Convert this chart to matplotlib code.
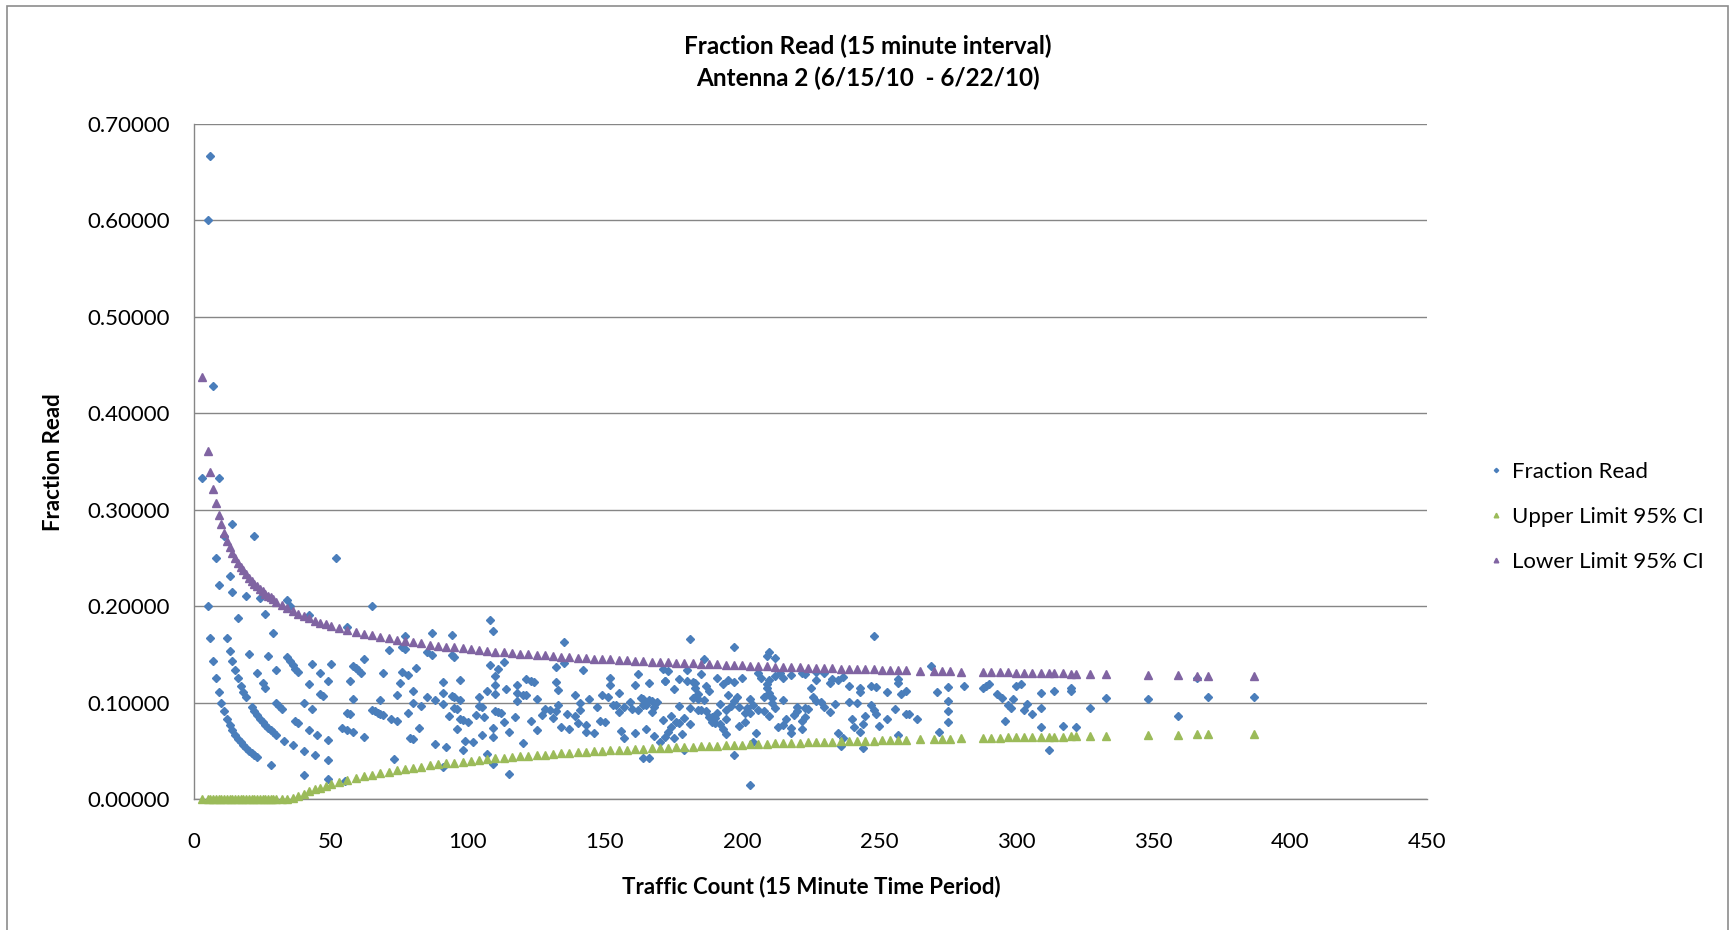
import matplotlib.pyplot as plt
from matplotlib.patches import Rectangle
from matplotlib.ticker import FormatStrFormatter, MultipleLocator

plt.rcParams['font.family'] = ['Lato', 'DejaVu Sans']

# ── Data ───────────────────────────────────────────────────────────────────────

# one point per 15 minute interval: traffic count and fraction of tags read
traffic_count = [
    3, 5, 6, 7, 9, 14, 22, 8, 52, 11,
    13, 9, 14, 19, 24, 34, 5, 65, 26, 35,
    16, 42, 56, 29, 6, 12, 77, 87, 94, 13,
    20, 27, 34, 35, 36, 37, 7, 14, 15, 16,
    8, 17, 18, 19, 9, 10, 11, 12, 13, 14,
    15, 16, 17, 18, 19, 20, 21, 22, 23, 23,
    25, 26, 21, 22, 23, 24, 25, 26, 27, 28,
    29, 30, 28, 30, 30, 31, 32, 33, 36, 40,
    44, 49, 40, 49, 38, 43, 46, 50, 49, 42,
    46, 47, 40, 43, 37, 38, 42, 45, 49, 58,
    59, 60, 61, 62, 57, 58, 56, 57, 54, 56,
    58, 62, 55, 65, 66, 67, 68, 69, 68, 69,
    71, 76, 77, 72, 74, 73, 75, 74, 76, 78,
    81, 80, 80, 78, 82, 79, 80, 83, 85, 85,
    87, 88, 88, 91, 91, 91, 92, 91, 94, 95,
    94, 95, 97, 95, 96, 97, 98, 96, 97, 100,
    93, 99, 98, 102, 103, 104, 104, 105, 108, 109,
    135, 181, 197, 248, 210, 209, 212, 186, 113, 108,
    111, 110, 135, 132, 142, 171, 173, 180, 185, 162,
    152, 121, 123, 124, 132, 110, 118, 152, 161, 166,
    172, 177, 180, 183, 187, 191, 193, 195, 197, 200,
    206, 207, 209, 210, 212, 214, 215, 218, 222, 223,
    227, 230, 232, 233, 235, 237, 239, 243, 247, 249,
    253, 257, 257, 258, 260, 264, 269, 271, 275, 275,
    275, 275, 272, 257, 260, 261, 256, 253, 250, 249,
    248, 247, 245, 244, 244, 242, 243, 239, 240, 241,
    243, 237, 236, 235, 234, 232, 230, 229, 227, 227,
    225, 226, 224, 223, 223, 222, 222, 220, 220, 219,
    218, 218, 216, 215, 215, 213, 212, 211, 210, 211,
    210, 209, 208, 208, 206, 205, 204, 204, 203, 203,
    202, 201, 201, 199, 199, 198, 197, 196, 195, 194,
    194, 194, 193, 192, 192, 191, 190, 190, 189, 189,
    188, 188, 187, 186, 185, 184, 184, 184, 183, 182,
    182, 181, 181, 179, 178, 177, 177, 176, 175, 174,
    174, 173, 172, 172, 171, 170, 169, 168, 168, 167,
    167, 166, 165, 165, 164, 164, 163, 162, 161, 160,
    159, 157, 156, 155, 157, 155, 154, 153, 151, 150,
    149, 148, 147, 146, 144, 143, 143, 141, 141, 140,
    139, 139, 136, 137, 134, 133, 133, 132, 131, 130,
    128, 127, 125, 125, 123, 121, 120, 120, 118, 118,
    117, 115, 114, 113, 112, 110, 110, 111, 109, 109,
    107, 107, 106, 105, 109, 115, 164, 166, 179, 197,
    203, 175,
    281, 288, 289, 290, 293, 295, 296, 297, 298, 299,
    300, 302, 303, 304, 306, 309, 309, 309, 312, 314,
    317, 320, 320, 322, 327, 333, 348, 359, 366, 370,
    387,
]

fraction_read = [
    0.3333, 0.6000, 0.6667, 0.4286, 0.3333, 0.2857, 0.2727, 0.2500, 0.2500, 0.2727,
    0.2308, 0.2222, 0.2143, 0.2105, 0.2083, 0.2059, 0.2000, 0.2000, 0.1923, 0.2000,
    0.1875, 0.1905, 0.1786, 0.1724, 0.1667, 0.1667, 0.1688, 0.1724, 0.1702, 0.1538,
    0.1500, 0.1481, 0.1471, 0.1429, 0.1389, 0.1351, 0.1429, 0.1429, 0.1333, 0.1250,
    0.1250, 0.1176, 0.1111, 0.1053, 0.1111, 0.1000, 0.0909, 0.0833, 0.0769, 0.0714,
    0.0667, 0.0625, 0.0588, 0.0556, 0.0526, 0.0500, 0.0476, 0.0455, 0.0435, 0.1304,
    0.1200, 0.1154, 0.0952, 0.0909, 0.0870, 0.0833, 0.0800, 0.0769, 0.0741, 0.0714,
    0.0690, 0.0667, 0.0357, 0.1333, 0.1000, 0.0968, 0.0938, 0.0606, 0.0556, 0.0500,
    0.0455, 0.0408, 0.0250, 0.0204, 0.1316, 0.1395, 0.1304, 0.1400, 0.1224, 0.1190,
    0.1087, 0.1064, 0.1000, 0.0930, 0.0811, 0.0789, 0.0714, 0.0667, 0.0612, 0.1379,
    0.1356, 0.1333, 0.1311, 0.1452, 0.1228, 0.1034, 0.0893, 0.0877, 0.0741, 0.0714,
    0.0690, 0.0645, 0.0182, 0.0923, 0.0909, 0.0896, 0.0882, 0.0870, 0.1029, 0.1304,
    0.1549, 0.1579, 0.1558, 0.0833, 0.0811, 0.0411, 0.1200, 0.1081, 0.1316, 0.1282,
    0.1358, 0.1125, 0.1000, 0.0897, 0.0732, 0.0633, 0.0625, 0.0964, 0.1059, 0.1529,
    0.1494, 0.1023, 0.0568, 0.1209, 0.1099, 0.0989, 0.0543, 0.0330, 0.1064, 0.1053,
    0.1489, 0.1474, 0.1237, 0.0947, 0.0938, 0.0825, 0.0816, 0.0729, 0.1031, 0.0800,
    0.0860, 0.0606, 0.0510, 0.0588, 0.0874, 0.1058, 0.0962, 0.0667, 0.1852, 0.1743,
    0.1630, 0.1657, 0.1574, 0.1694, 0.1524, 0.1483, 0.1462, 0.1452, 0.1416, 0.1389,
    0.1351, 0.1273, 0.1407, 0.1364, 0.1338, 0.1345, 0.1329, 0.1333, 0.1297, 0.1296,
    0.1250, 0.1240, 0.1220, 0.1210, 0.1212, 0.1182, 0.1186, 0.1184, 0.1180, 0.1205,
    0.1221, 0.1243, 0.1222, 0.1202, 0.1176, 0.1257, 0.1192, 0.1231, 0.1218, 0.1250,
    0.1311, 0.1256, 0.1196, 0.1238, 0.1274, 0.1308, 0.1256, 0.1284, 0.1306, 0.1300,
    0.1322, 0.1304, 0.1207, 0.1245, 0.1234, 0.1266, 0.1172, 0.1152, 0.1174, 0.1165,
    0.1107, 0.1245, 0.1206, 0.1085, 0.1115, 0.0833, 0.1375, 0.1107, 0.1164, 0.1018,
    0.0909, 0.0800, 0.0699, 0.0661, 0.0885, 0.0881, 0.0938, 0.0830, 0.0760, 0.0884,
    0.0927, 0.0972, 0.0857, 0.0779, 0.0533, 0.0992, 0.1111, 0.1004, 0.0833, 0.0747,
    0.0700, 0.0633, 0.0551, 0.0681, 0.0983, 0.0905, 0.0957, 0.1004, 0.1013, 0.1233,
    0.1156, 0.1062, 0.0938, 0.0942, 0.0852, 0.0811, 0.0721, 0.0955, 0.0909, 0.0868,
    0.0734, 0.0688, 0.0833, 0.0767, 0.1023, 0.0751, 0.0943, 0.1043, 0.1095, 0.0995,
    0.0857, 0.1148, 0.1058, 0.0913, 0.0922, 0.0683, 0.0588, 0.0980, 0.1034, 0.0887,
    0.0941, 0.0896, 0.0796, 0.0754, 0.0955, 0.1061, 0.1015, 0.0969, 0.1077, 0.0928,
    0.0670, 0.0825, 0.0725, 0.0990, 0.0781, 0.0890, 0.0789, 0.0842, 0.0794, 0.0847,
    0.0851, 0.1117, 0.0909, 0.1022, 0.0919, 0.0924, 0.1033, 0.1087, 0.1148, 0.1044,
    0.1209, 0.0939, 0.0773, 0.0838, 0.0674, 0.0791, 0.0960, 0.0795, 0.0629, 0.0862,
    0.0747, 0.0694, 0.0640, 0.1221, 0.0819, 0.0588, 0.1006, 0.0655, 0.0952, 0.0898,
    0.1018, 0.1024, 0.0727, 0.0970, 0.1037, 0.0976, 0.1043, 0.0926, 0.0683, 0.0938,
    0.1006, 0.0955, 0.0705, 0.0903, 0.0637, 0.1097, 0.0974, 0.0980, 0.1060, 0.0800,
    0.1074, 0.0811, 0.0952, 0.0685, 0.1042, 0.0699, 0.0769, 0.0922, 0.0993, 0.0786,
    0.0863, 0.1079, 0.0882, 0.0730, 0.0746, 0.1128, 0.0977, 0.0909, 0.0840, 0.0923,
    0.0938, 0.0866, 0.0720, 0.1040, 0.0813, 0.1074, 0.1083, 0.0583, 0.1017, 0.1102,
    0.0855, 0.0696, 0.1140, 0.0796, 0.0893, 0.1091, 0.0909, 0.0901, 0.0642, 0.0734,
    0.1121, 0.0467, 0.0849, 0.0952, 0.0367, 0.0261, 0.0427, 0.0422, 0.0503, 0.0457,
    0.0148, 0.1143,
    0.1174, 0.1146, 0.1176, 0.1190, 0.1092, 0.1051, 0.0811, 0.0976, 0.0940, 0.1037,
    0.1167, 0.1192, 0.0924, 0.0987, 0.0882, 0.1100, 0.0939, 0.0744, 0.0513, 0.1115,
    0.0757, 0.1156, 0.1125, 0.0745, 0.0948, 0.1051, 0.1034, 0.0864, 0.1257, 0.1054,
    0.1059,
]

# confidence interval markers (legend names kept as in the original chart)
ci_count = [
    3, 5, 6, 7, 8, 9, 10, 11, 12, 13, 14, 15, 16, 17, 18, 19, 20, 21, 22, 23, 24, 25, 26, 27, 28, 29,
    30, 32, 34, 36, 38, 40, 42, 44, 46, 48,
    50, 53, 56, 59, 62, 65, 68, 71, 74, 77, 80, 83, 86, 89, 92, 95, 98, 101, 104, 107,
    110, 113, 116, 119, 122, 125, 128, 131, 134, 137, 140, 143, 146, 149, 152, 155, 158, 161, 164, 167,
    170, 173, 176, 179, 182, 185, 188, 191, 194, 197, 200, 203, 206, 209, 212, 215, 218, 221, 224, 227,
    230, 233, 236, 239, 242, 245, 248, 251, 254, 257, 260,
    265, 270, 273, 276, 280, 288, 291, 294, 297, 300, 303, 306, 309, 312, 314, 317, 320, 322, 327, 333,
    348, 359, 366, 370, 387,
]

ci_upper = [  # green markers
    0, 0, 0, 0, 0, 0, 0, 0, 0, 0, 0, 0, 0, 0, 0, 0, 0, 0, 0, 0, 0, 0, 0, 0, 0, 0,
    0, 0, 0, 0.0006, 0.0030, 0.0056, 0.0078, 0.0099, 0.0118, 0.0136,
    0.0153, 0.0176, 0.0198, 0.0218, 0.0237, 0.0254, 0.0270, 0.0285, 0.0299, 0.0312,
    0.0325, 0.0337, 0.0348, 0.0359, 0.0369, 0.0378, 0.0388, 0.0397, 0.0405, 0.0413,
    0.0421, 0.0428, 0.0435, 0.0442, 0.0449, 0.0455, 0.0461, 0.0467, 0.0473, 0.0478,
    0.0484, 0.0489, 0.0494, 0.0499, 0.0503, 0.0508, 0.0512, 0.0517, 0.0521, 0.0525,
    0.0529, 0.0533, 0.0537, 0.0540, 0.0544, 0.0548, 0.0551, 0.0554, 0.0558, 0.0561,
    0.0564, 0.0567, 0.0570, 0.0573, 0.0576, 0.0578, 0.0581, 0.0584, 0.0587, 0.0589,
    0.0592, 0.0594, 0.0597, 0.0599, 0.0601, 0.0604, 0.0606, 0.0608, 0.0610, 0.0612, 0.0614,
    0.0618, 0.0621, 0.0623, 0.0625, 0.0628, 0.0632, 0.0634, 0.0636, 0.0638, 0.0639,
    0.0641, 0.0643, 0.0644, 0.0646, 0.0647, 0.0648, 0.0650, 0.0651, 0.0653, 0.0656,
    0.0663, 0.0668, 0.0671, 0.0673, 0.0679,
]

ci_lower = [  # purple markers
    0.438, 0.361, 0.339, 0.321, 0.307, 0.295, 0.285, 0.276, 0.268, 0.261, 0.255, 0.250, 0.245,
    0.241, 0.237, 0.233, 0.229, 0.226, 0.223, 0.221, 0.218, 0.216, 0.213, 0.211, 0.209, 0.207,
    0.204, 0.201, 0.198, 0.195, 0.192, 0.190, 0.188, 0.185, 0.183, 0.181,
    0.1797, 0.1774, 0.1752, 0.1732, 0.1713, 0.1696, 0.1680, 0.1665, 0.1651, 0.1638,
    0.1625, 0.1613, 0.1602, 0.1591, 0.1581, 0.1572, 0.1562, 0.1553, 0.1545, 0.1537,
    0.1529, 0.1522, 0.1515, 0.1508, 0.1501, 0.1495, 0.1489, 0.1483, 0.1477, 0.1472,
    0.1466, 0.1461, 0.1456, 0.1451, 0.1447, 0.1442, 0.1438, 0.1433, 0.1429, 0.1425,
    0.1421, 0.1417, 0.1413, 0.1410, 0.1406, 0.1402, 0.1399, 0.1396, 0.1392, 0.1389,
    0.1386, 0.1383, 0.1380, 0.1377, 0.1374, 0.1372, 0.1369, 0.1366, 0.1363, 0.1361,
    0.1358, 0.1356, 0.1353, 0.1351, 0.1349, 0.1346, 0.1344, 0.1342, 0.1340, 0.1338, 0.1336,
    0.1332, 0.1329, 0.1327, 0.1325, 0.1322, 0.1318, 0.1316, 0.1314, 0.1312, 0.1311,
    0.1309, 0.1307, 0.1306, 0.1304, 0.1303, 0.1302, 0.1300, 0.1299, 0.1297, 0.1294,
    0.1287, 0.1282, 0.1279, 0.1277, 0.1271,
]

BLUE = '#4a7ebb'
GREEN = '#9bbb59'
PURPLE = '#8064a2'
GRID = '#868686'

# ── Plot ───────────────────────────────────────────────────────────────────────

W, H = 1735, 930
fig = plt.figure(figsize=(W / 100, H / 100), dpi=100)
ax = fig.add_axes([194 / W, 1 - 799 / H, (1427 - 194) / W, (799 - 124) / H])

ax.plot(traffic_count, fraction_read, ls='none', marker='D', ms=4, color=BLUE,
        mec=BLUE, label='Fraction Read', zorder=3, clip_on=False)
ax.plot(ci_count, ci_upper, ls='none', marker='^', ms=6, color=GREEN,
        mec=GREEN, label='Upper Limit 95% CI', zorder=4, clip_on=False)
ax.plot(ci_count, ci_lower, ls='none', marker='^', ms=6, color=PURPLE,
        mec=PURPLE, label='Lower Limit 95% CI', zorder=5, clip_on=False)

ax.set_xlim(0, 450)
ax.set_ylim(0, 0.7)
ax.xaxis.set_major_locator(MultipleLocator(50))
ax.yaxis.set_major_locator(MultipleLocator(0.1))
ax.yaxis.set_major_formatter(FormatStrFormatter('%.5f'))
ax.yaxis.grid(True, color=GRID, lw=1.0)
ax.set_axisbelow(True)
for side in ('top', 'right'):
    ax.spines[side].set_visible(False)
for side in ('left', 'bottom'):
    ax.spines[side].set_color(GRID)
    ax.spines[side].set_linewidth(1.0)
ax.tick_params(axis='both', length=0, labelsize=16)
ax.tick_params(axis='y', pad=17.5)
ax.tick_params(axis='x', pad=24)

fig.text(0.5, 1 - 46 / H, 'Fraction Read (15 minute interval)', ha='center', va='center',
         fontsize=17.5, fontweight='bold')
fig.text(0.5, 1 - 78 / H, 'Antenna 2 (6/15/10  - 6/22/10)', ha='center', va='center',
         fontsize=17.5, fontweight='bold')
fig.text(811 / W, 1 - 887 / H, 'Traffic Count (15 Minute Time Period)', ha='center', va='center',
         fontsize=16, fontweight='bold')
fig.text(53 / W, 1 - 462 / H, 'Fraction Read', ha='center', va='center', rotation=90,
         fontsize=16, fontweight='bold')

fig.legend(loc='center left', bbox_to_anchor=(1480 / W, 1 - 517 / H), frameon=False,
           fontsize=16, handlelength=0.6, handletextpad=0.42, labelspacing=1.13,
           borderpad=0.4, borderaxespad=0, markerscale=0.55)

# chart area border, its bottom edge is below the picture
fig.patches.append(Rectangle((7 / W, -0.05), (1728 - 7) / W, 1 - 6 / H + 0.05,
                             transform=fig.transFigure, fill=False, ec='#8c8c8c', lw=1.2))

fig.savefig('out.png', dpi=100)
